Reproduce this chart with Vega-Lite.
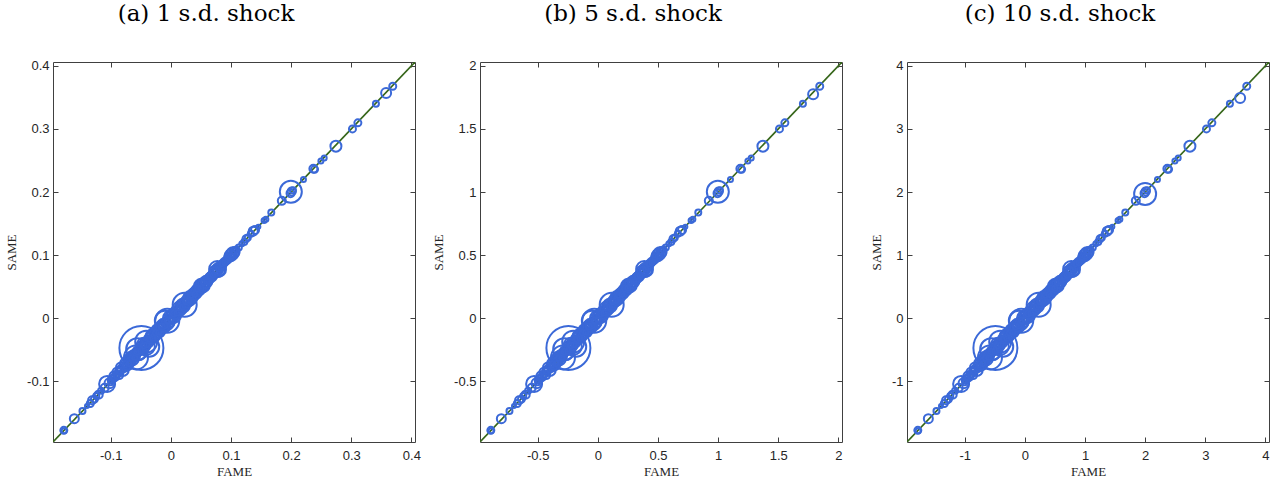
{
  "$schema": "https://vega.github.io/schema/vega-lite/v6.json",
  "background": "white",
  "padding": {"left": 5, "top": 2, "right": 2, "bottom": 2},
  "spacing": 65,
  "bounds": "flush",
  "config": {
    "view": {"stroke": "#404040", "strokeWidth": 1},
    "axis": {"grid": false, "domain": false, "tickSize": -5, "tickColor": "#404040", "tickWidth": 1, "labelFont": "Liberation Sans", "labelFontSize": 13, "labelColor": "#262626", "titleFont": "Liberation Serif", "titleFontSize": 13, "titleFontWeight": "normal", "titleColor": "#262626"},
    "axisX": {"labelPadding": 12},
    "axisY": {"labelPadding": 9},
    "title": {"font": "DejaVu Serif", "fontSize": 23, "fontWeight": "normal", "color": "#000000", "frame": "group", "anchor": "middle", "dx": -28, "baseline": "alphabetic", "offset": 34}
  },
  "hconcat": [
    {
      "title": "(a) 1 s.d. shock",
      "width": 362, "height": 380,
      "layer": [
        {
          "data": {"values": [{"x": -0.196, "y": -0.196}, {"x": 0.406, "y": 0.406}]},
          "mark": {"type": "line", "color": "#36661a", "strokeWidth": 1.6, "clip": true},
          "encoding": {
            "x": {"field": "x", "type": "quantitative", "scale": {"domain": [-0.196, 0.406], "nice": false, "zero": false}, "axis": {"orient": "top", "labels": false, "title": null, "values": [-0.1, 0, 0.1, 0.2, 0.3, 0.4]}},
            "y": {"field": "y", "type": "quantitative", "scale": {"domain": [-0.196, 0.406], "nice": false, "zero": false}, "axis": {"orient": "right", "labels": false, "title": null, "values": [-0.1, 0, 0.1, 0.2, 0.3, 0.4]}}
          }
        },
        {
          "data": {"values": [
            {"x":-0.178,"y":-0.1775,"w":7},{"x":-0.1775,"y":-0.178,"w":5},{"x":-0.1605,"y":-0.159,"w":9},{"x":-0.147,"y":-0.147,"w":6},{"x":-0.1395,"y":-0.139,"w":4},{"x":-0.134,"y":-0.135,"w":7},{"x":-0.131,"y":-0.13,"w":8},{"x":-0.127,"y":-0.128,"w":7},{"x":-0.124,"y":-0.123,"w":6},{"x":-0.12,"y":-0.121,"w":8},{"x":-0.116,"y":-0.115,"w":6},{"x":-0.11,"y":-0.11,"w":8},{"x":-0.106,"y":-0.104,"w":16},{"x":-0.102,"y":-0.103,"w":10},{"x":-0.098,"y":-0.097,"w":8},{"x":-0.094,"y":-0.092,"w":10},{"x":-0.089,"y":-0.086,"w":10},{"x":-0.086,"y":-0.09,"w":8},{"x":-0.083,"y":-0.078,"w":10},{"x":-0.08,"y":-0.082,"w":12},{"x":-0.077,"y":-0.075,"w":10},{"x":-0.074,"y":-0.071,"w":12},{"x":-0.071,"y":-0.074,"w":10},{"x":-0.068,"y":-0.066,"w":12},{"x":-0.065,"y":-0.064,"w":14},{"x":-0.062,"y":-0.06,"w":12},{"x":-0.058,"y":-0.062,"w":24},{"x":-0.056,"y":-0.049,"w":22},{"x":-0.053,"y":-0.055,"w":14},{"x":-0.049,"y":-0.047,"w":44},{"x":-0.047,"y":-0.045,"w":12},{"x":-0.045,"y":-0.042,"w":14},{"x":-0.041,"y":-0.037,"w":22},{"x":-0.04,"y":-0.045,"w":16},{"x":-0.036,"y":-0.045,"w":20},{"x":-0.034,"y":-0.032,"w":12},{"x":-0.03,"y":-0.028,"w":14},{"x":-0.027,"y":-0.029,"w":10},{"x":-0.024,"y":-0.022,"w":12},{"x":-0.021,"y":-0.02,"w":14},{"x":-0.018,"y":-0.017,"w":12},{"x":-0.015,"y":-0.013,"w":12},{"x":-0.012,"y":-0.012,"w":14},{"x":-0.01,"y":-0.004,"w":20},{"x":-0.006,"y":-0.004,"w":24},{"x":-0.004,"y":-0.006,"w":12},{"x":-0.001,"y":0.001,"w":14},{"x":0.002,"y":0.003,"w":12},{"x":0.005,"y":0.004,"w":14},{"x":0.008,"y":0.009,"w":12},{"x":0.011,"y":0.01,"w":12},{"x":0.014,"y":0.015,"w":14},{"x":0.017,"y":0.016,"w":12},{"x":0.02,"y":0.02,"w":14},{"x":0.023,"y":0.0215,"w":24},{"x":0.026,"y":0.026,"w":12},{"x":0.029,"y":0.028,"w":12},{"x":0.032,"y":0.032,"w":14},{"x":0.035,"y":0.034,"w":12},{"x":0.038,"y":0.038,"w":12},{"x":0.041,"y":0.04,"w":12},{"x":0.044,"y":0.044,"w":12},{"x":0.047,"y":0.046,"w":12},{"x":0.05,"y":0.051,"w":14},{"x":0.053,"y":0.052,"w":14},{"x":0.056,"y":0.055,"w":12},{"x":0.059,"y":0.058,"w":12},{"x":0.062,"y":0.061,"w":10},{"x":0.065,"y":0.064,"w":10},{"x":0.068,"y":0.066,"w":10},{"x":0.071,"y":0.07,"w":10},{"x":0.074,"y":0.074,"w":12},{"x":0.077,"y":0.078,"w":16},{"x":0.08,"y":0.077,"w":14},{"x":0.083,"y":0.082,"w":10},{"x":0.086,"y":0.085,"w":8},{"x":0.089,"y":0.089,"w":8},{"x":0.093,"y":0.092,"w":8},{"x":0.097,"y":0.097,"w":10},{"x":0.1,"y":0.1,"w":12},{"x":0.103,"y":0.103,"w":12},{"x":0.106,"y":0.105,"w":10},{"x":0.109,"y":0.109,"w":6},{"x":0.113,"y":0.112,"w":6},{"x":0.118,"y":0.118,"w":5},{"x":0.122,"y":0.121,"w":6},{"x":0.125,"y":0.126,"w":7},{"x":0.128,"y":0.128,"w":6},{"x":0.133,"y":0.134,"w":6},{"x":0.137,"y":0.138,"w":9},{"x":0.14,"y":0.14,"w":8},{"x":0.1455,"y":0.145,"w":4},{"x":0.155,"y":0.155,"w":5},{"x":0.158,"y":0.157,"w":5},{"x":0.167,"y":0.1675,"w":6},{"x":0.1845,"y":0.186,"w":8},{"x":0.1995,"y":0.2005,"w":22},{"x":0.201,"y":0.201,"w":8},{"x":0.199,"y":0.198,"w":8},{"x":0.203,"y":0.203,"w":6},{"x":0.2205,"y":0.22,"w":5},{"x":0.237,"y":0.237,"w":8},{"x":0.239,"y":0.236,"w":7},{"x":0.2495,"y":0.249,"w":5},{"x":0.255,"y":0.254,"w":5},{"x":0.2745,"y":0.2727,"w":11},{"x":0.302,"y":0.3,"w":7},{"x":0.311,"y":0.3096,"w":7},{"x":0.341,"y":0.3397,"w":6},{"x":0.358,"y":0.357,"w":10},{"x":0.369,"y":0.3675,"w":7},
            {"x":-0.1,"y":-0.098,"w":6},{"x":-0.096,"y":-0.095,"w":7},{"x":-0.091,"y":-0.09,"w":6},{"x":-0.087,"y":-0.084,"w":7},{"x":-0.082,"y":-0.081,"w":8},{"x":-0.078,"y":-0.077,"w":6},{"x":-0.075,"y":-0.078,"w":8},{"x":-0.072,"y":-0.069,"w":7},{"x":-0.069,"y":-0.07,"w":8},{"x":-0.066,"y":-0.068,"w":9},{"x":-0.063,"y":-0.063,"w":8},{"x":-0.06,"y":-0.057,"w":9},{"x":-0.059,"y":-0.058,"w":10},{"x":-0.055,"y":-0.053,"w":9},{"x":-0.052,"y":-0.05,"w":10},{"x":-0.05,"y":-0.052,"w":8},{"x":-0.048,"y":-0.048,"w":9},{"x":-0.046,"y":-0.043,"w":8},{"x":-0.043,"y":-0.044,"w":10},{"x":-0.042,"y":-0.039,"w":9},{"x":-0.038,"y":-0.036,"w":10},{"x":-0.037,"y":-0.039,"w":9},{"x":-0.035,"y":-0.034,"w":8},{"x":-0.032,"y":-0.029,"w":10},{"x":-0.031,"y":-0.033,"w":9},{"x":-0.028,"y":-0.026,"w":10},{"x":-0.025,"y":-0.026,"w":8},{"x":-0.023,"y":-0.019,"w":10},{"x":-0.019,"y":-0.021,"w":9},{"x":-0.016,"y":-0.015,"w":10},{"x":-0.014,"y":-0.011,"w":9},{"x":-0.011,"y":-0.013,"w":10},{"x":-0.008,"y":-0.008,"w":9},{"x":-0.005,"y":-0.002,"w":10},{"x":-0.002,"y":-0.003,"w":9},{"x":0.0,"y":0.002,"w":10},{"x":0.003,"y":0.0,"w":9},{"x":0.006,"y":0.007,"w":10},{"x":0.009,"y":0.006,"w":9},{"x":0.012,"y":0.013,"w":10},{"x":0.015,"y":0.012,"w":9},{"x":0.018,"y":0.019,"w":10},{"x":0.021,"y":0.018,"w":9},{"x":0.024,"y":0.025,"w":10},{"x":0.027,"y":0.024,"w":9},{"x":0.03,"y":0.031,"w":10},{"x":0.033,"y":0.03,"w":9},{"x":0.036,"y":0.037,"w":10},{"x":0.039,"y":0.036,"w":9},{"x":0.042,"y":0.043,"w":10},{"x":0.045,"y":0.042,"w":9},{"x":0.048,"y":0.049,"w":10},{"x":0.051,"y":0.048,"w":9},{"x":0.054,"y":0.056,"w":10},{"x":0.057,"y":0.054,"w":9},{"x":0.06,"y":0.061,"w":8},{"x":0.063,"y":0.06,"w":8},{"x":0.066,"y":0.067,"w":8},{"x":0.069,"y":0.068,"w":8},{"x":0.072,"y":0.071,"w":8},{"x":0.075,"y":0.073,"w":8},{"x":0.078,"y":0.076,"w":10},{"x":0.081,"y":0.08,"w":8},{"x":0.084,"y":0.085,"w":7},{"x":0.087,"y":0.087,"w":6},{"x":0.091,"y":0.09,"w":7},{"x":0.095,"y":0.094,"w":6},{"x":0.099,"y":0.098,"w":8},{"x":0.102,"y":0.101,"w":7},{"x":0.105,"y":0.106,"w":6},
            {"x":-0.1,"y":-0.102,"w":5},{"x":-0.095,"y":-0.093,"w":6},{"x":-0.09,"y":-0.092,"w":5},{"x":-0.085,"y":-0.083,"w":6},{"x":-0.08,"y":-0.082,"w":5},{"x":-0.075,"y":-0.073,"w":6},{"x":-0.07,"y":-0.072,"w":5},{"x":-0.065,"y":-0.063,"w":6},{"x":-0.06,"y":-0.062,"w":5},{"x":-0.055,"y":-0.053,"w":6},{"x":-0.05,"y":-0.052,"w":5},{"x":-0.045,"y":-0.043,"w":6},{"x":-0.04,"y":-0.042,"w":5},{"x":-0.035,"y":-0.033,"w":6},{"x":-0.03,"y":-0.032,"w":5},{"x":-0.025,"y":-0.023,"w":6},{"x":-0.02,"y":-0.022,"w":5},{"x":-0.015,"y":-0.013,"w":6},{"x":-0.01,"y":-0.012,"w":5},{"x":-0.005,"y":-0.003,"w":6},{"x":0.0,"y":-0.002,"w":5},{"x":0.005,"y":0.007,"w":6},{"x":0.01,"y":0.008,"w":5},{"x":0.015,"y":0.017,"w":6},{"x":0.02,"y":0.018,"w":5},{"x":0.025,"y":0.027,"w":6},{"x":0.03,"y":0.028,"w":5},{"x":0.035,"y":0.037,"w":6},{"x":0.04,"y":0.038,"w":5},{"x":0.045,"y":0.047,"w":6},{"x":0.05,"y":0.048,"w":5},{"x":0.055,"y":0.057,"w":6},{"x":0.06,"y":0.058,"w":5},{"x":0.065,"y":0.067,"w":6},{"x":0.07,"y":0.068,"w":5},{"x":0.075,"y":0.077,"w":6},{"x":0.08,"y":0.078,"w":5},{"x":0.085,"y":0.087,"w":6},{"x":0.09,"y":0.088,"w":5},{"x":0.095,"y":0.097,"w":6},{"x":0.1,"y":0.098,"w":5},{"x":0.105,"y":0.107,"w":6}
          ]},
          "mark": {"type": "point", "shape": "circle", "filled": false, "stroke": "#3b69d8", "strokeWidth": 2, "opacity": 1},
          "encoding": {
            "x": {"field": "x", "type": "quantitative", "scale": {"domain": [-0.196, 0.406], "nice": false, "zero": false}, "axis": {"orient": "bottom", "title": "FAME", "titlePadding": 3, "values": [-0.1, 0, 0.1, 0.2, 0.3, 0.4], "labelExpr": "'' + datum.value"}},
            "y": {"field": "y", "type": "quantitative", "scale": {"domain": [-0.196, 0.406], "nice": false, "zero": false}, "axis": {"orient": "left", "title": "SAME", "titlePadding": 8, "values": [-0.1, 0, 0.1, 0.2, 0.3, 0.4], "labelExpr": "'' + datum.value"}},
            "size": {"field": "w", "type": "quantitative", "scale": {"type": "pow", "exponent": 2, "domain": [0, 50], "range": [0, 2500]}, "legend": null}
          }
        }
      ],
      "resolve": {"axis": {"x": "independent", "y": "independent"}}
    },
    {
      "title": "(b) 5 s.d. shock",
      "width": 362, "height": 380,
      "layer": [
        {
          "data": {"values": [{"x": -0.98, "y": -0.98}, {"x": 2.03, "y": 2.03}]},
          "mark": {"type": "line", "color": "#36661a", "strokeWidth": 1.6, "clip": true},
          "encoding": {
            "x": {"field": "x", "type": "quantitative", "scale": {"domain": [-0.98, 2.03], "nice": false, "zero": false}, "axis": {"orient": "top", "labels": false, "title": null, "values": [-0.5, 0, 0.5, 1, 1.5, 2]}},
            "y": {"field": "y", "type": "quantitative", "scale": {"domain": [-0.98, 2.03], "nice": false, "zero": false}, "axis": {"orient": "right", "labels": false, "title": null, "values": [-0.5, 0, 0.5, 1, 1.5, 2]}}
          }
        },
        {
          "data": {"values": [
            {"x":-0.89,"y":-0.8875,"w":7},{"x":-0.8875,"y":-0.89,"w":5},{"x":-0.8025,"y":-0.795,"w":9},{"x":-0.735,"y":-0.735,"w":6},{"x":-0.6975,"y":-0.695,"w":4},{"x":-0.67,"y":-0.675,"w":7},{"x":-0.655,"y":-0.65,"w":8},{"x":-0.635,"y":-0.64,"w":7},{"x":-0.62,"y":-0.615,"w":6},{"x":-0.6,"y":-0.605,"w":8},{"x":-0.58,"y":-0.575,"w":6},{"x":-0.55,"y":-0.55,"w":8},{"x":-0.53,"y":-0.52,"w":16},{"x":-0.51,"y":-0.515,"w":10},{"x":-0.49,"y":-0.485,"w":8},{"x":-0.47,"y":-0.46,"w":10},{"x":-0.445,"y":-0.43,"w":10},{"x":-0.43,"y":-0.45,"w":8},{"x":-0.415,"y":-0.39,"w":10},{"x":-0.4,"y":-0.41,"w":12},{"x":-0.385,"y":-0.375,"w":10},{"x":-0.37,"y":-0.355,"w":12},{"x":-0.355,"y":-0.37,"w":10},{"x":-0.34,"y":-0.33,"w":12},{"x":-0.325,"y":-0.32,"w":14},{"x":-0.31,"y":-0.3,"w":12},{"x":-0.29,"y":-0.31,"w":24},{"x":-0.28,"y":-0.245,"w":22},{"x":-0.265,"y":-0.275,"w":14},{"x":-0.245,"y":-0.235,"w":44},{"x":-0.235,"y":-0.225,"w":12},{"x":-0.225,"y":-0.21,"w":14},{"x":-0.205,"y":-0.185,"w":22},{"x":-0.2,"y":-0.225,"w":16},{"x":-0.18,"y":-0.225,"w":20},{"x":-0.17,"y":-0.16,"w":12},{"x":-0.15,"y":-0.14,"w":14},{"x":-0.135,"y":-0.145,"w":10},{"x":-0.12,"y":-0.11,"w":12},{"x":-0.105,"y":-0.1,"w":14},{"x":-0.09,"y":-0.085,"w":12},{"x":-0.075,"y":-0.065,"w":12},{"x":-0.06,"y":-0.06,"w":14},{"x":-0.05,"y":-0.02,"w":20},{"x":-0.03,"y":-0.02,"w":24},{"x":-0.02,"y":-0.03,"w":12},{"x":-0.005,"y":0.005,"w":14},{"x":0.01,"y":0.015,"w":12},{"x":0.025,"y":0.02,"w":14},{"x":0.04,"y":0.045,"w":12},{"x":0.055,"y":0.05,"w":12},{"x":0.07,"y":0.075,"w":14},{"x":0.085,"y":0.08,"w":12},{"x":0.1,"y":0.1,"w":14},{"x":0.115,"y":0.1075,"w":24},{"x":0.13,"y":0.13,"w":12},{"x":0.145,"y":0.14,"w":12},{"x":0.16,"y":0.16,"w":14},{"x":0.175,"y":0.17,"w":12},{"x":0.19,"y":0.19,"w":12},{"x":0.205,"y":0.2,"w":12},{"x":0.22,"y":0.22,"w":12},{"x":0.235,"y":0.23,"w":12},{"x":0.25,"y":0.255,"w":14},{"x":0.265,"y":0.26,"w":14},{"x":0.28,"y":0.275,"w":12},{"x":0.295,"y":0.29,"w":12},{"x":0.31,"y":0.305,"w":10},{"x":0.325,"y":0.32,"w":10},{"x":0.34,"y":0.33,"w":10},{"x":0.355,"y":0.35,"w":10},{"x":0.37,"y":0.37,"w":12},{"x":0.385,"y":0.39,"w":16},{"x":0.4,"y":0.385,"w":14},{"x":0.415,"y":0.41,"w":10},{"x":0.43,"y":0.425,"w":8},{"x":0.445,"y":0.445,"w":8},{"x":0.465,"y":0.46,"w":8},{"x":0.485,"y":0.485,"w":10},{"x":0.5,"y":0.5,"w":12},{"x":0.515,"y":0.515,"w":12},{"x":0.53,"y":0.525,"w":10},{"x":0.545,"y":0.545,"w":6},{"x":0.565,"y":0.56,"w":6},{"x":0.59,"y":0.59,"w":5},{"x":0.61,"y":0.605,"w":6},{"x":0.625,"y":0.63,"w":7},{"x":0.64,"y":0.64,"w":6},{"x":0.665,"y":0.67,"w":6},{"x":0.685,"y":0.69,"w":9},{"x":0.7,"y":0.7,"w":8},{"x":0.7275,"y":0.725,"w":4},{"x":0.775,"y":0.775,"w":5},{"x":0.79,"y":0.785,"w":5},{"x":0.835,"y":0.8375,"w":6},{"x":0.9225,"y":0.93,"w":8},{"x":0.9975,"y":1.0025,"w":22},{"x":1.005,"y":1.005,"w":8},{"x":0.995,"y":0.99,"w":8},{"x":1.015,"y":1.015,"w":6},{"x":1.1025,"y":1.1,"w":5},{"x":1.185,"y":1.185,"w":8},{"x":1.195,"y":1.18,"w":7},{"x":1.2475,"y":1.245,"w":5},{"x":1.275,"y":1.27,"w":5},{"x":1.3725,"y":1.3635,"w":11},{"x":1.51,"y":1.5,"w":7},{"x":1.555,"y":1.548,"w":7},{"x":1.705,"y":1.6985,"w":6},{"x":1.79,"y":1.775,"w":10},{"x":1.845,"y":1.8375,"w":7},
            {"x":-0.5,"y":-0.49,"w":6},{"x":-0.48,"y":-0.475,"w":7},{"x":-0.455,"y":-0.45,"w":6},{"x":-0.435,"y":-0.42,"w":7},{"x":-0.41,"y":-0.405,"w":8},{"x":-0.39,"y":-0.385,"w":6},{"x":-0.375,"y":-0.39,"w":8},{"x":-0.36,"y":-0.345,"w":7},{"x":-0.345,"y":-0.35,"w":8},{"x":-0.33,"y":-0.34,"w":9},{"x":-0.315,"y":-0.315,"w":8},{"x":-0.3,"y":-0.285,"w":9},{"x":-0.295,"y":-0.29,"w":10},{"x":-0.275,"y":-0.265,"w":9},{"x":-0.26,"y":-0.25,"w":10},{"x":-0.25,"y":-0.26,"w":8},{"x":-0.24,"y":-0.24,"w":9},{"x":-0.23,"y":-0.215,"w":8},{"x":-0.215,"y":-0.22,"w":10},{"x":-0.21,"y":-0.195,"w":9},{"x":-0.19,"y":-0.18,"w":10},{"x":-0.185,"y":-0.195,"w":9},{"x":-0.175,"y":-0.17,"w":8},{"x":-0.16,"y":-0.145,"w":10},{"x":-0.155,"y":-0.165,"w":9},{"x":-0.14,"y":-0.13,"w":10},{"x":-0.125,"y":-0.13,"w":8},{"x":-0.115,"y":-0.095,"w":10},{"x":-0.095,"y":-0.105,"w":9},{"x":-0.08,"y":-0.075,"w":10},{"x":-0.07,"y":-0.055,"w":9},{"x":-0.055,"y":-0.065,"w":10},{"x":-0.04,"y":-0.04,"w":9},{"x":-0.025,"y":-0.01,"w":10},{"x":-0.01,"y":-0.015,"w":9},{"x":0.0,"y":0.01,"w":10},{"x":0.015,"y":0.0,"w":9},{"x":0.03,"y":0.035,"w":10},{"x":0.045,"y":0.03,"w":9},{"x":0.06,"y":0.065,"w":10},{"x":0.075,"y":0.06,"w":9},{"x":0.09,"y":0.095,"w":10},{"x":0.105,"y":0.09,"w":9},{"x":0.12,"y":0.125,"w":10},{"x":0.135,"y":0.12,"w":9},{"x":0.15,"y":0.155,"w":10},{"x":0.165,"y":0.15,"w":9},{"x":0.18,"y":0.185,"w":10},{"x":0.195,"y":0.18,"w":9},{"x":0.21,"y":0.215,"w":10},{"x":0.225,"y":0.21,"w":9},{"x":0.24,"y":0.245,"w":10},{"x":0.255,"y":0.24,"w":9},{"x":0.27,"y":0.28,"w":10},{"x":0.285,"y":0.27,"w":9},{"x":0.3,"y":0.305,"w":8},{"x":0.315,"y":0.3,"w":8},{"x":0.33,"y":0.335,"w":8},{"x":0.345,"y":0.34,"w":8},{"x":0.36,"y":0.355,"w":8},{"x":0.375,"y":0.365,"w":8},{"x":0.39,"y":0.38,"w":10},{"x":0.405,"y":0.4,"w":8},{"x":0.42,"y":0.425,"w":7},{"x":0.435,"y":0.435,"w":6},{"x":0.455,"y":0.45,"w":7},{"x":0.475,"y":0.47,"w":6},{"x":0.495,"y":0.49,"w":8},{"x":0.51,"y":0.505,"w":7},{"x":0.525,"y":0.53,"w":6},
            {"x":-0.5,"y":-0.51,"w":5},{"x":-0.475,"y":-0.465,"w":6},{"x":-0.45,"y":-0.46,"w":5},{"x":-0.425,"y":-0.415,"w":6},{"x":-0.4,"y":-0.41,"w":5},{"x":-0.375,"y":-0.365,"w":6},{"x":-0.35,"y":-0.36,"w":5},{"x":-0.325,"y":-0.315,"w":6},{"x":-0.3,"y":-0.31,"w":5},{"x":-0.275,"y":-0.265,"w":6},{"x":-0.25,"y":-0.26,"w":5},{"x":-0.225,"y":-0.215,"w":6},{"x":-0.2,"y":-0.21,"w":5},{"x":-0.175,"y":-0.165,"w":6},{"x":-0.15,"y":-0.16,"w":5},{"x":-0.125,"y":-0.115,"w":6},{"x":-0.1,"y":-0.11,"w":5},{"x":-0.075,"y":-0.065,"w":6},{"x":-0.05,"y":-0.06,"w":5},{"x":-0.025,"y":-0.015,"w":6},{"x":0.0,"y":-0.01,"w":5},{"x":0.025,"y":0.035,"w":6},{"x":0.05,"y":0.04,"w":5},{"x":0.075,"y":0.085,"w":6},{"x":0.1,"y":0.09,"w":5},{"x":0.125,"y":0.135,"w":6},{"x":0.15,"y":0.14,"w":5},{"x":0.175,"y":0.185,"w":6},{"x":0.2,"y":0.19,"w":5},{"x":0.225,"y":0.235,"w":6},{"x":0.25,"y":0.24,"w":5},{"x":0.275,"y":0.285,"w":6},{"x":0.3,"y":0.29,"w":5},{"x":0.325,"y":0.335,"w":6},{"x":0.35,"y":0.34,"w":5},{"x":0.375,"y":0.385,"w":6},{"x":0.4,"y":0.39,"w":5},{"x":0.425,"y":0.435,"w":6},{"x":0.45,"y":0.44,"w":5},{"x":0.475,"y":0.485,"w":6},{"x":0.5,"y":0.49,"w":5},{"x":0.525,"y":0.535,"w":6}
          ]},
          "mark": {"type": "point", "shape": "circle", "filled": false, "stroke": "#3b69d8", "strokeWidth": 2, "opacity": 1},
          "encoding": {
            "x": {"field": "x", "type": "quantitative", "scale": {"domain": [-0.98, 2.03], "nice": false, "zero": false}, "axis": {"orient": "bottom", "title": "FAME", "titlePadding": 3, "values": [-0.5, 0, 0.5, 1, 1.5, 2], "labelExpr": "'' + datum.value"}},
            "y": {"field": "y", "type": "quantitative", "scale": {"domain": [-0.98, 2.03], "nice": false, "zero": false}, "axis": {"orient": "left", "title": "SAME", "titlePadding": 8, "values": [-0.5, 0, 0.5, 1, 1.5, 2], "labelExpr": "'' + datum.value"}},
            "size": {"field": "w", "type": "quantitative", "scale": {"type": "pow", "exponent": 2, "domain": [0, 50], "range": [0, 2500]}, "legend": null}
          }
        }
      ],
      "resolve": {"axis": {"x": "independent", "y": "independent"}}
    },
    {
      "title": "(c) 10 s.d. shock",
      "width": 362, "height": 380,
      "layer": [
        {
          "data": {"values": [{"x": -1.96, "y": -1.96}, {"x": 4.06, "y": 4.06}]},
          "mark": {"type": "line", "color": "#36661a", "strokeWidth": 1.6, "clip": true},
          "encoding": {
            "x": {"field": "x", "type": "quantitative", "scale": {"domain": [-1.96, 4.06], "nice": false, "zero": false}, "axis": {"orient": "top", "labels": false, "title": null, "values": [-1, 0, 1, 2, 3, 4]}},
            "y": {"field": "y", "type": "quantitative", "scale": {"domain": [-1.96, 4.06], "nice": false, "zero": false}, "axis": {"orient": "right", "labels": false, "title": null, "values": [-1, 0, 1, 2, 3, 4]}}
          }
        },
        {
          "data": {"values": [
            {"x":-1.78,"y":-1.775,"w":7},{"x":-1.775,"y":-1.78,"w":5},{"x":-1.605,"y":-1.59,"w":9},{"x":-1.47,"y":-1.47,"w":6},{"x":-1.395,"y":-1.39,"w":4},{"x":-1.34,"y":-1.35,"w":7},{"x":-1.31,"y":-1.3,"w":8},{"x":-1.27,"y":-1.28,"w":7},{"x":-1.24,"y":-1.23,"w":6},{"x":-1.2,"y":-1.21,"w":8},{"x":-1.16,"y":-1.15,"w":6},{"x":-1.1,"y":-1.1,"w":8},{"x":-1.06,"y":-1.04,"w":16},{"x":-1.02,"y":-1.03,"w":10},{"x":-0.98,"y":-0.97,"w":8},{"x":-0.94,"y":-0.92,"w":10},{"x":-0.89,"y":-0.86,"w":10},{"x":-0.86,"y":-0.9,"w":8},{"x":-0.83,"y":-0.78,"w":10},{"x":-0.8,"y":-0.82,"w":12},{"x":-0.77,"y":-0.75,"w":10},{"x":-0.74,"y":-0.71,"w":12},{"x":-0.71,"y":-0.74,"w":10},{"x":-0.68,"y":-0.66,"w":12},{"x":-0.65,"y":-0.64,"w":14},{"x":-0.62,"y":-0.6,"w":12},{"x":-0.58,"y":-0.62,"w":24},{"x":-0.56,"y":-0.49,"w":22},{"x":-0.53,"y":-0.55,"w":14},{"x":-0.49,"y":-0.47,"w":44},{"x":-0.47,"y":-0.45,"w":12},{"x":-0.45,"y":-0.42,"w":14},{"x":-0.41,"y":-0.37,"w":22},{"x":-0.4,"y":-0.45,"w":16},{"x":-0.36,"y":-0.45,"w":20},{"x":-0.34,"y":-0.32,"w":12},{"x":-0.3,"y":-0.28,"w":14},{"x":-0.27,"y":-0.29,"w":10},{"x":-0.24,"y":-0.22,"w":12},{"x":-0.21,"y":-0.2,"w":14},{"x":-0.18,"y":-0.17,"w":12},{"x":-0.15,"y":-0.13,"w":12},{"x":-0.12,"y":-0.12,"w":14},{"x":-0.1,"y":-0.04,"w":20},{"x":-0.06,"y":-0.04,"w":24},{"x":-0.04,"y":-0.06,"w":12},{"x":-0.01,"y":0.01,"w":14},{"x":0.02,"y":0.03,"w":12},{"x":0.05,"y":0.04,"w":14},{"x":0.08,"y":0.09,"w":12},{"x":0.11,"y":0.1,"w":12},{"x":0.14,"y":0.15,"w":14},{"x":0.17,"y":0.16,"w":12},{"x":0.2,"y":0.2,"w":14},{"x":0.23,"y":0.215,"w":24},{"x":0.26,"y":0.26,"w":12},{"x":0.29,"y":0.28,"w":12},{"x":0.32,"y":0.32,"w":14},{"x":0.35,"y":0.34,"w":12},{"x":0.38,"y":0.38,"w":12},{"x":0.41,"y":0.4,"w":12},{"x":0.44,"y":0.44,"w":12},{"x":0.47,"y":0.46,"w":12},{"x":0.5,"y":0.51,"w":14},{"x":0.53,"y":0.52,"w":14},{"x":0.56,"y":0.55,"w":12},{"x":0.59,"y":0.58,"w":12},{"x":0.62,"y":0.61,"w":10},{"x":0.65,"y":0.64,"w":10},{"x":0.68,"y":0.66,"w":10},{"x":0.71,"y":0.7,"w":10},{"x":0.74,"y":0.74,"w":12},{"x":0.77,"y":0.78,"w":16},{"x":0.8,"y":0.77,"w":14},{"x":0.83,"y":0.82,"w":10},{"x":0.86,"y":0.85,"w":8},{"x":0.89,"y":0.89,"w":8},{"x":0.93,"y":0.92,"w":8},{"x":0.97,"y":0.97,"w":10},{"x":1.0,"y":1.0,"w":12},{"x":1.03,"y":1.03,"w":12},{"x":1.06,"y":1.05,"w":10},{"x":1.09,"y":1.09,"w":6},{"x":1.13,"y":1.12,"w":6},{"x":1.18,"y":1.18,"w":5},{"x":1.22,"y":1.21,"w":6},{"x":1.25,"y":1.26,"w":7},{"x":1.28,"y":1.28,"w":6},{"x":1.33,"y":1.34,"w":6},{"x":1.37,"y":1.38,"w":9},{"x":1.4,"y":1.4,"w":8},{"x":1.455,"y":1.45,"w":4},{"x":1.55,"y":1.55,"w":5},{"x":1.58,"y":1.57,"w":5},{"x":1.67,"y":1.675,"w":6},{"x":1.845,"y":1.86,"w":8},{"x":2.0,"y":1.97,"w":22},{"x":2.01,"y":2.01,"w":8},{"x":1.99,"y":1.98,"w":8},{"x":2.03,"y":2.03,"w":6},{"x":2.205,"y":2.2,"w":5},{"x":2.37,"y":2.37,"w":8},{"x":2.39,"y":2.36,"w":7},{"x":2.495,"y":2.49,"w":5},{"x":2.55,"y":2.54,"w":5},{"x":2.745,"y":2.727,"w":11},{"x":3.02,"y":3.0,"w":7},{"x":3.11,"y":3.096,"w":7},{"x":3.41,"y":3.397,"w":6},{"x":3.58,"y":3.49,"w":10},{"x":3.69,"y":3.675,"w":7},
            {"x":-1.0,"y":-0.98,"w":6},{"x":-0.96,"y":-0.95,"w":7},{"x":-0.91,"y":-0.9,"w":6},{"x":-0.87,"y":-0.84,"w":7},{"x":-0.82,"y":-0.81,"w":8},{"x":-0.78,"y":-0.77,"w":6},{"x":-0.75,"y":-0.78,"w":8},{"x":-0.72,"y":-0.69,"w":7},{"x":-0.69,"y":-0.7,"w":8},{"x":-0.66,"y":-0.68,"w":9},{"x":-0.63,"y":-0.63,"w":8},{"x":-0.6,"y":-0.57,"w":9},{"x":-0.59,"y":-0.58,"w":10},{"x":-0.55,"y":-0.53,"w":9},{"x":-0.52,"y":-0.5,"w":10},{"x":-0.5,"y":-0.52,"w":8},{"x":-0.48,"y":-0.48,"w":9},{"x":-0.46,"y":-0.43,"w":8},{"x":-0.43,"y":-0.44,"w":10},{"x":-0.42,"y":-0.39,"w":9},{"x":-0.38,"y":-0.36,"w":10},{"x":-0.37,"y":-0.39,"w":9},{"x":-0.35,"y":-0.34,"w":8},{"x":-0.32,"y":-0.29,"w":10},{"x":-0.31,"y":-0.33,"w":9},{"x":-0.28,"y":-0.26,"w":10},{"x":-0.25,"y":-0.26,"w":8},{"x":-0.23,"y":-0.19,"w":10},{"x":-0.19,"y":-0.21,"w":9},{"x":-0.16,"y":-0.15,"w":10},{"x":-0.14,"y":-0.11,"w":9},{"x":-0.11,"y":-0.13,"w":10},{"x":-0.08,"y":-0.08,"w":9},{"x":-0.05,"y":-0.02,"w":10},{"x":-0.02,"y":-0.03,"w":9},{"x":0.0,"y":0.02,"w":10},{"x":0.03,"y":0.0,"w":9},{"x":0.06,"y":0.07,"w":10},{"x":0.09,"y":0.06,"w":9},{"x":0.12,"y":0.13,"w":10},{"x":0.15,"y":0.12,"w":9},{"x":0.18,"y":0.19,"w":10},{"x":0.21,"y":0.18,"w":9},{"x":0.24,"y":0.25,"w":10},{"x":0.27,"y":0.24,"w":9},{"x":0.3,"y":0.31,"w":10},{"x":0.33,"y":0.3,"w":9},{"x":0.36,"y":0.37,"w":10},{"x":0.39,"y":0.36,"w":9},{"x":0.42,"y":0.43,"w":10},{"x":0.45,"y":0.42,"w":9},{"x":0.48,"y":0.49,"w":10},{"x":0.51,"y":0.48,"w":9},{"x":0.54,"y":0.56,"w":10},{"x":0.57,"y":0.54,"w":9},{"x":0.6,"y":0.61,"w":8},{"x":0.63,"y":0.6,"w":8},{"x":0.66,"y":0.67,"w":8},{"x":0.69,"y":0.68,"w":8},{"x":0.72,"y":0.71,"w":8},{"x":0.75,"y":0.73,"w":8},{"x":0.78,"y":0.76,"w":10},{"x":0.81,"y":0.8,"w":8},{"x":0.84,"y":0.85,"w":7},{"x":0.87,"y":0.87,"w":6},{"x":0.91,"y":0.9,"w":7},{"x":0.95,"y":0.94,"w":6},{"x":0.99,"y":0.98,"w":8},{"x":1.02,"y":1.01,"w":7},{"x":1.05,"y":1.06,"w":6},
            {"x":-1.0,"y":-1.02,"w":5},{"x":-0.95,"y":-0.93,"w":6},{"x":-0.9,"y":-0.92,"w":5},{"x":-0.85,"y":-0.83,"w":6},{"x":-0.8,"y":-0.82,"w":5},{"x":-0.75,"y":-0.73,"w":6},{"x":-0.7,"y":-0.72,"w":5},{"x":-0.65,"y":-0.63,"w":6},{"x":-0.6,"y":-0.62,"w":5},{"x":-0.55,"y":-0.53,"w":6},{"x":-0.5,"y":-0.52,"w":5},{"x":-0.45,"y":-0.43,"w":6},{"x":-0.4,"y":-0.42,"w":5},{"x":-0.35,"y":-0.33,"w":6},{"x":-0.3,"y":-0.32,"w":5},{"x":-0.25,"y":-0.23,"w":6},{"x":-0.2,"y":-0.22,"w":5},{"x":-0.15,"y":-0.13,"w":6},{"x":-0.1,"y":-0.12,"w":5},{"x":-0.05,"y":-0.03,"w":6},{"x":0.0,"y":-0.02,"w":5},{"x":0.05,"y":0.07,"w":6},{"x":0.1,"y":0.08,"w":5},{"x":0.15,"y":0.17,"w":6},{"x":0.2,"y":0.18,"w":5},{"x":0.25,"y":0.27,"w":6},{"x":0.3,"y":0.28,"w":5},{"x":0.35,"y":0.37,"w":6},{"x":0.4,"y":0.38,"w":5},{"x":0.45,"y":0.47,"w":6},{"x":0.5,"y":0.48,"w":5},{"x":0.55,"y":0.57,"w":6},{"x":0.6,"y":0.58,"w":5},{"x":0.65,"y":0.67,"w":6},{"x":0.7,"y":0.68,"w":5},{"x":0.75,"y":0.77,"w":6},{"x":0.8,"y":0.78,"w":5},{"x":0.85,"y":0.87,"w":6},{"x":0.9,"y":0.88,"w":5},{"x":0.95,"y":0.97,"w":6},{"x":1.0,"y":0.98,"w":5},{"x":1.05,"y":1.07,"w":6}
          ]},
          "mark": {"type": "point", "shape": "circle", "filled": false, "stroke": "#3b69d8", "strokeWidth": 2, "opacity": 1},
          "encoding": {
            "x": {"field": "x", "type": "quantitative", "scale": {"domain": [-1.96, 4.06], "nice": false, "zero": false}, "axis": {"orient": "bottom", "title": "FAME", "titlePadding": 3, "values": [-1, 0, 1, 2, 3, 4], "labelExpr": "'' + datum.value"}},
            "y": {"field": "y", "type": "quantitative", "scale": {"domain": [-1.96, 4.06], "nice": false, "zero": false}, "axis": {"orient": "left", "title": "SAME", "titlePadding": 8, "values": [-1, 0, 1, 2, 3, 4], "labelExpr": "'' + datum.value"}},
            "size": {"field": "w", "type": "quantitative", "scale": {"type": "pow", "exponent": 2, "domain": [0, 50], "range": [0, 2500]}, "legend": null}
          }
        }
      ],
      "resolve": {"axis": {"x": "independent", "y": "independent"}}
    }
  ]
}
